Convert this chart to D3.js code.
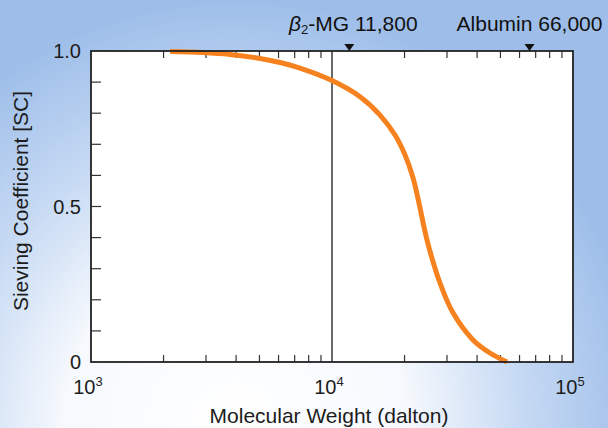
<!DOCTYPE html>
<html><head><meta charset="utf-8">
<script src="https://cdn.jsdelivr.net/npm/d3@7"></script>
<style>html,body{margin:0;padding:0;overflow:hidden;}svg{display:block;}</style>
</head><body>
<svg id="c" width="608" height="428"></svg>
<script>
// Data
const molecularWeight = [2130, 2900, 3770, 5030, 6090, 7360, 10000, 13070, 15820, 18260, 20090, 21690, 22960, 24790, 28060, 31780, 38470, 45250, 53220];
const sievingCoef    = [0.998, 0.995, 0.989, 0.976, 0.963, 0.945, 0.905, 0.853, 0.794, 0.730, 0.666, 0.592, 0.511, 0.392, 0.254, 0.158, 0.071, 0.029, 0.0];
const markerNames = ["β2-MG", "Albumin"];
const markerWeights = [11800, 66000];
const markerLabels = ["11,800", "66,000"];
const yTickLabels = [[0, "0"], [0.5, "0.5"], [1.0, "1.0"]];
const xMajor = [1e3, 1e4, 1e5];

const W = 608, H = 428;
const m = {l: 91, r: 573, t: 51, b: 362};
const svg = d3.select("#c");
const defs = svg.append("defs");
const rg = defs.append("radialGradient").attr("id", "bg").attr("gradientUnits", "userSpaceOnUse")
  .attr("cx", 235).attr("cy", 430).attr("r", 430)
  .attr("gradientTransform", "translate(235,430) scale(0.95,1) translate(-235,-430)");
rg.append("stop").attr("offset", "0").attr("stop-color", "#ffffff");
rg.append("stop").attr("offset", "0.42").attr("stop-color", "#f6f9fd");
rg.append("stop").attr("offset", "0.72").attr("stop-color", "#c4d8f3");
rg.append("stop").attr("offset", "1").attr("stop-color", "#9ebee9");
svg.append("rect").attr("width", W).attr("height", H).attr("fill", "url(#bg)");

const x = d3.scaleLog().domain([1e3, 1e5]).range([m.l, m.r]);
const y = d3.scaleLinear().domain([0, 1]).range([m.b, m.t]);

// plot area
svg.append("rect").attr("x", m.l).attr("y", m.t).attr("width", m.r - m.l).attr("height", m.b - m.t)
  .attr("fill", "#fff");

// minor ticks x (top & bottom, inward)
const minor = [];
[1e3, 1e4].forEach(d => { for (let k = 2; k <= 9; k++) minor.push(d * k); });
const gx = svg.append("g").attr("stroke", "#333").attr("stroke-width", 1.2);
minor.forEach(v => {
  gx.append("line").attr("x1", x(v)).attr("x2", x(v)).attr("y1", m.b).attr("y2", m.b - 7);
  gx.append("line").attr("x1", x(v)).attr("x2", x(v)).attr("y1", m.t).attr("y2", m.t + 7);
});
// y ticks (left, inward)
d3.range(1, 10).forEach(i => {
  const v = i / 10;
  gx.append("line").attr("x1", m.l).attr("x2", m.l + 10).attr("y1", y(v)).attr("y2", y(v));
});

// gridline at 10^4
svg.append("line").attr("x1", x(1e4)).attr("x2", x(1e4)).attr("y1", m.t).attr("y2", m.b)
  .attr("stroke", "#444").attr("stroke-width", 1.6);

// curve
const pts = molecularWeight.map((d, i) => [d, sievingCoef[i]]);
svg.append("path").datum(pts)
  .attr("d", d3.line().x(d => x(d[0])).y(d => y(d[1])).curve(d3.curveCatmullRom.alpha(0.5)))
  .attr("fill", "none").attr("stroke", "#f5821f").attr("stroke-width", 5);

// frame
svg.append("rect").attr("x", m.l).attr("y", m.t).attr("width", m.r - m.l).attr("height", m.b - m.t)
  .attr("fill", "none").attr("stroke", "#222").attr("stroke-width", 1.8);

const font = "Liberation Sans, Arial, Helvetica, sans-serif";

// y tick labels
svg.append("g").selectAll("text").data(yTickLabels).join("text")
  .attr("x", 81).attr("y", d => y(d[0])).attr("dy", "0.36em")
  .attr("text-anchor", "end").attr("font-family", font).attr("font-size", 20).attr("fill", "#1c1c1c")
  .text(d => d[1]);

// x tick labels 10^n
const xl = svg.append("g").selectAll("text").data(xMajor).join("text")
  .attr("x", d => x(d) - 3).attr("y", 394)
  .attr("text-anchor", "middle").attr("font-family", font).attr("font-size", 20).attr("fill", "#1c1c1c");
xl.append("tspan").text("10");
xl.append("tspan").attr("font-size", 13).attr("dy", -8).text(d => Math.round(Math.log10(d)));

// axis titles
svg.append("text").attr("x", 329).attr("y", 423).attr("text-anchor", "middle")
  .attr("font-family", font).attr("font-size", 21).attr("fill", "#1c1c1c").text("Molecular Weight (dalton)");
svg.append("text").attr("transform", "translate(28,201) rotate(-90)").attr("text-anchor", "middle")
  .attr("font-family", font).attr("font-size", 21).attr("fill", "#1c1c1c").text("Sieving Coefficient [SC]");

// markers
markerWeights.forEach((w, i) => {
  const cx = x(w);
  svg.append("path").attr("d", `M${cx - 5},44 L${cx + 5},44 L${cx},51 Z`).attr("fill", "#111");
  const t = svg.append("text").attr("x", cx + (i === 0 ? 4 : 0)).attr("y", 31).attr("text-anchor", "middle")
    .attr("font-family", font).attr("font-size", 21).attr("fill", "#111");
  if (i === 0) {
    t.append("tspan").attr("font-style", "italic").text("β");
    t.append("tspan").attr("font-size", 13).attr("dy", 3).text("2");
    t.append("tspan").attr("dy", -3).text("-MG " + markerLabels[i]);
  } else {
    t.text(markerNames[i] + " " + markerLabels[i]);
  }
});
</script>
</body></html>
